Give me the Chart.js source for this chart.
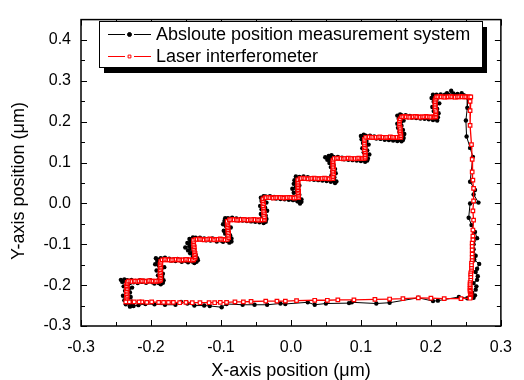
<!DOCTYPE html>
<html>
<head>
<meta charset="utf-8">
<script src="https://cdn.jsdelivr.net/npm/chart.js@4.4.1/dist/chart.umd.min.js"></script>
<style>
  html, body { margin: 0; padding: 0; background: #fff; }
  #wrap { width: 524px; height: 380px; }
</style>
</head>
<body>
<div id="wrap"><canvas id="myChart"></canvas></div>
<script>
const seriesNames = ['Absloute position measurement system', 'Laser interferometer']
const xTicks = [-0.3, -0.2, -0.1, 0.0, 0.1, 0.2, 0.3]
const yTicks = [-0.3, -0.2, -0.1, 0.0, 0.1, 0.2, 0.3, 0.4]
const xMinorTicks = [-0.25, -0.15, -0.05, 0.05, 0.15, 0.25]
const yMinorTicks = [-0.25, -0.15, -0.05, 0.05, 0.15, 0.25, 0.35]

// laser interferometer (x, y) in um: staircase up, right side down, bottom back
const laserPath = [
  [-0.234,-0.241],[-0.235,-0.237],[-0.234,-0.233],[-0.235,-0.229],[-0.234,-0.225],[-0.235,-0.221],[-0.234,-0.217],[-0.235,-0.213],[-0.234,-0.209],[-0.234,-0.205],[-0.235,-0.201],[-0.234,-0.197],[-0.234,-0.193],
  [-0.232,-0.190],[-0.229,-0.190],[-0.227,-0.191],[-0.224,-0.190],[-0.222,-0.190],[-0.219,-0.191],[-0.217,-0.190],[-0.214,-0.189],[-0.212,-0.190],[-0.209,-0.190],[-0.207,-0.191],[-0.204,-0.190],[-0.202,-0.189],[-0.199,-0.190],[-0.197,-0.190],[-0.194,-0.191],[-0.192,-0.190],[-0.189,-0.190],[-0.187,-0.189],
  [-0.186,-0.186],[-0.186,-0.182],[-0.187,-0.178],[-0.186,-0.174],[-0.187,-0.170],[-0.186,-0.166],[-0.187,-0.162],[-0.186,-0.158],[-0.186,-0.154],[-0.187,-0.150],[-0.186,-0.146],[-0.186,-0.142],
  [-0.184,-0.138],[-0.181,-0.138],[-0.179,-0.137],[-0.176,-0.138],[-0.174,-0.138],[-0.171,-0.139],[-0.169,-0.138],[-0.166,-0.138],[-0.164,-0.137],[-0.161,-0.138],[-0.159,-0.138],[-0.156,-0.139],[-0.154,-0.138],[-0.151,-0.138],[-0.149,-0.137],[-0.146,-0.138],[-0.144,-0.138],[-0.141,-0.139],[-0.139,-0.138],
  [-0.137,-0.134],[-0.137,-0.130],[-0.138,-0.126],[-0.137,-0.122],[-0.138,-0.118],[-0.138,-0.114],[-0.139,-0.110],[-0.138,-0.106],[-0.139,-0.102],[-0.139,-0.098],[-0.139,-0.094],[-0.139,-0.090],
  [-0.136,-0.088],[-0.134,-0.088],[-0.131,-0.087],[-0.129,-0.088],[-0.126,-0.088],[-0.124,-0.089],[-0.121,-0.088],[-0.119,-0.088],[-0.116,-0.087],[-0.114,-0.088],[-0.111,-0.088],[-0.109,-0.089],[-0.106,-0.088],[-0.104,-0.088],[-0.101,-0.087],[-0.099,-0.088],[-0.096,-0.088],[-0.094,-0.089],[-0.091,-0.088],
  [-0.089,-0.084],[-0.089,-0.080],[-0.090,-0.076],[-0.089,-0.072],[-0.090,-0.068],[-0.090,-0.064],[-0.090,-0.060],[-0.091,-0.056],[-0.090,-0.052],[-0.091,-0.048],[-0.091,-0.044],
  [-0.088,-0.040],[-0.086,-0.040],[-0.083,-0.039],[-0.081,-0.040],[-0.078,-0.040],[-0.076,-0.041],[-0.073,-0.040],[-0.071,-0.040],[-0.068,-0.039],[-0.066,-0.040],[-0.063,-0.040],[-0.061,-0.041],[-0.058,-0.040],[-0.056,-0.040],[-0.053,-0.039],[-0.051,-0.040],[-0.048,-0.040],[-0.046,-0.041],[-0.043,-0.040],[-0.041,-0.040],[-0.038,-0.040],
  [-0.038,-0.036],[-0.038,-0.032],[-0.039,-0.027],[-0.038,-0.023],[-0.039,-0.019],[-0.039,-0.014],[-0.039,-0.010],[-0.040,-0.006],[-0.039,-0.001],[-0.040,0.003],[-0.040,0.007],[-0.040,0.011],
  [-0.037,0.014],[-0.035,0.014],[-0.032,0.015],[-0.030,0.014],[-0.027,0.014],[-0.025,0.013],[-0.022,0.014],[-0.020,0.014],[-0.017,0.015],[-0.015,0.014],[-0.012,0.014],[-0.010,0.013],[-0.007,0.014],[-0.005,0.014],[-0.002,0.015],[0.000,0.014],[0.003,0.014],[0.005,0.013],[0.008,0.014],[0.011,0.014],
  [0.011,0.018],[0.011,0.022],[0.010,0.026],[0.011,0.030],[0.010,0.034],[0.010,0.038],[0.010,0.042],[0.010,0.046],[0.010,0.050],[0.010,0.054],[0.010,0.058],
  [0.013,0.061],[0.015,0.061],[0.018,0.062],[0.020,0.061],[0.023,0.061],[0.025,0.060],[0.028,0.061],[0.030,0.061],[0.033,0.062],[0.035,0.061],[0.038,0.061],[0.040,0.060],[0.043,0.061],[0.045,0.061],[0.048,0.062],[0.050,0.061],[0.053,0.061],[0.055,0.060],[0.058,0.061],[0.060,0.061],
  [0.060,0.065],[0.060,0.069],[0.061,0.073],[0.060,0.077],[0.060,0.081],[0.061,0.085],[0.060,0.089],[0.060,0.094],[0.060,0.098],[0.060,0.102],[0.060,0.106],
  [0.062,0.110],[0.065,0.110],[0.067,0.111],[0.070,0.110],[0.072,0.110],[0.075,0.109],[0.077,0.110],[0.080,0.110],[0.082,0.111],[0.085,0.110],[0.087,0.110],[0.090,0.109],[0.092,0.110],[0.095,0.110],[0.097,0.111],[0.100,0.110],[0.102,0.110],[0.104,0.110],[0.106,0.111],
  [0.106,0.115],[0.106,0.119],[0.106,0.123],[0.106,0.127],[0.105,0.131],[0.106,0.136],[0.105,0.140],[0.105,0.144],[0.105,0.148],[0.105,0.153],[0.105,0.157],
  [0.107,0.162],[0.110,0.162],[0.112,0.163],[0.115,0.162],[0.117,0.162],[0.120,0.161],[0.122,0.162],[0.125,0.162],[0.127,0.163],[0.130,0.162],[0.132,0.162],[0.135,0.161],[0.137,0.162],[0.140,0.162],[0.142,0.163],[0.145,0.162],[0.147,0.162],[0.150,0.161],[0.152,0.162],[0.155,0.162],[0.157,0.162],
  [0.157,0.166],[0.157,0.170],[0.156,0.174],[0.156,0.178],[0.156,0.182],[0.156,0.186],[0.155,0.191],[0.155,0.195],[0.155,0.199],[0.155,0.203],[0.156,0.207],
  [0.158,0.212],[0.160,0.212],[0.163,0.213],[0.165,0.212],[0.168,0.212],[0.170,0.211],[0.173,0.212],[0.175,0.212],[0.178,0.213],[0.180,0.212],[0.183,0.212],[0.185,0.211],[0.188,0.212],[0.190,0.212],[0.193,0.213],[0.195,0.212],[0.198,0.212],[0.200,0.211],[0.203,0.212],[0.205,0.212],[0.207,0.212],
  [0.207,0.216],[0.207,0.220],[0.207,0.224],[0.207,0.228],[0.206,0.233],[0.206,0.237],[0.206,0.241],[0.206,0.245],[0.206,0.249],[0.206,0.253],[0.207,0.257],
  [0.208,0.261],[0.210,0.261],[0.213,0.262],[0.215,0.261],[0.218,0.261],[0.220,0.260],[0.223,0.261],[0.225,0.261],[0.228,0.262],[0.230,0.261],[0.233,0.261],[0.235,0.260],[0.238,0.261],[0.240,0.261],[0.243,0.262],[0.245,0.261],[0.248,0.261],[0.250,0.261],[0.253,0.261],[0.255,0.261],[0.257,0.261],
  [0.256,0.250],[0.256,0.227],[0.256,0.191],[0.258,0.144],[0.259,0.108],[0.259,0.077],[0.260,0.057],[0.261,0.037],[0.261,0.006],[0.260,-0.018],[0.261,-0.041],[0.260,-0.065],
  [0.260,-0.080],[0.260,-0.089],[0.259,-0.097],[0.259,-0.105],[0.259,-0.114],[0.259,-0.124],[0.259,-0.132],[0.259,-0.140],[0.258,-0.146],[0.258,-0.152],[0.258,-0.159],[0.258,-0.165],
  [0.257,-0.170],[0.257,-0.175],[0.257,-0.181],[0.257,-0.188],[0.256,-0.194],[0.256,-0.199],[0.256,-0.204],[0.256,-0.208],[0.256,-0.212],[0.256,-0.215],[0.257,-0.219],[0.257,-0.222],
  [0.257,-0.225],[0.257,-0.228],[0.256,-0.230],[0.256,-0.232],
  [0.243,-0.233],[0.219,-0.233],[0.200,-0.232],[0.182,-0.231],[0.160,-0.233],[0.141,-0.234],[0.120,-0.235],[0.090,-0.236],[0.067,-0.236],
  [0.052,-0.237],[0.034,-0.237],[0.008,-0.238],[-0.008,-0.239],[-0.020,-0.239],[-0.036,-0.239],[-0.057,-0.240],[-0.068,-0.241],[-0.080,-0.241],
  [-0.092,-0.242],[-0.101,-0.242],[-0.109,-0.243],[-0.117,-0.243],[-0.130,-0.243],[-0.141,-0.243],[-0.150,-0.242],[-0.159,-0.243],[-0.168,-0.242],
  [-0.175,-0.242],[-0.182,-0.242],[-0.189,-0.242],[-0.199,-0.241],[-0.206,-0.242],[-0.213,-0.241],[-0.217,-0.241],[-0.224,-0.241],[-0.231,-0.241],[-0.236,-0.241]
]

// absolute position measurement system (x, y) in um, same route, noisier
const apmsPath = [
  [-0.230,-0.252],[-0.226,-0.249],[-0.236,-0.247],[-0.231,-0.244],[-0.228,-0.240],[-0.238,-0.237],[-0.233,-0.233],[-0.229,-0.229],[-0.240,-0.226],[-0.235,-0.222],[-0.230,-0.218],[-0.237,-0.214],[-0.232,-0.210],[-0.227,-0.206],[-0.239,-0.203],[-0.233,-0.199],[-0.230,-0.195],[-0.241,-0.192],[-0.236,-0.189],[-0.243,-0.187],
  [-0.238,-0.186],[-0.234,-0.188],[-0.231,-0.192],[-0.228,-0.187],[-0.225,-0.193],[-0.222,-0.190],[-0.219,-0.195],[-0.216,-0.188],[-0.213,-0.192],[-0.210,-0.189],[-0.207,-0.194],[-0.204,-0.191],[-0.201,-0.188],[-0.198,-0.193],[-0.195,-0.196],[-0.192,-0.190],[-0.189,-0.195],[-0.186,-0.198],[-0.183,-0.194],
  [-0.182,-0.188],[-0.188,-0.184],[-0.184,-0.180],[-0.190,-0.176],[-0.183,-0.172],[-0.187,-0.168],[-0.192,-0.164],[-0.185,-0.160],[-0.181,-0.156],[-0.189,-0.152],[-0.194,-0.149],[-0.186,-0.145],[-0.191,-0.141],[-0.187,-0.137],[-0.193,-0.134],
  [-0.186,-0.134],[-0.183,-0.136],[-0.180,-0.133],[-0.177,-0.138],[-0.174,-0.135],[-0.171,-0.140],[-0.168,-0.137],[-0.165,-0.141],[-0.162,-0.136],[-0.159,-0.139],[-0.156,-0.143],[-0.153,-0.138],[-0.150,-0.141],[-0.147,-0.144],[-0.144,-0.139],[-0.141,-0.142],[-0.138,-0.146],[-0.135,-0.143],[-0.133,-0.139],
  [-0.134,-0.134],[-0.140,-0.130],[-0.136,-0.126],[-0.144,-0.122],[-0.139,-0.118],[-0.147,-0.115],[-0.142,-0.111],[-0.151,-0.108],[-0.145,-0.104],[-0.139,-0.100],[-0.148,-0.097],[-0.143,-0.093],[-0.137,-0.090],[-0.145,-0.087],[-0.140,-0.083],
  [-0.136,-0.084],[-0.133,-0.087],[-0.130,-0.084],[-0.127,-0.089],[-0.124,-0.086],[-0.121,-0.090],[-0.118,-0.087],[-0.115,-0.091],[-0.112,-0.086],[-0.109,-0.089],[-0.106,-0.093],[-0.103,-0.088],[-0.100,-0.091],[-0.097,-0.094],[-0.094,-0.089],[-0.091,-0.092],[-0.088,-0.096],[-0.085,-0.093],
  [-0.085,-0.086],[-0.091,-0.082],[-0.087,-0.078],[-0.094,-0.074],[-0.089,-0.070],[-0.096,-0.067],[-0.091,-0.063],[-0.086,-0.059],[-0.093,-0.055],[-0.097,-0.051],[-0.090,-0.047],[-0.095,-0.043],[-0.089,-0.040],[-0.094,-0.036],
  [-0.090,-0.036],[-0.087,-0.038],[-0.084,-0.035],[-0.081,-0.040],[-0.078,-0.037],[-0.075,-0.041],[-0.072,-0.038],[-0.069,-0.042],[-0.066,-0.039],[-0.063,-0.043],[-0.060,-0.040],[-0.057,-0.044],[-0.054,-0.041],[-0.051,-0.045],[-0.048,-0.042],[-0.045,-0.046],[-0.042,-0.043],[-0.039,-0.048],[-0.036,-0.045],
  [-0.035,-0.038],[-0.041,-0.034],[-0.036,-0.030],[-0.043,-0.026],[-0.038,-0.022],[-0.034,-0.018],[-0.042,-0.014],[-0.037,-0.010],[-0.044,-0.006],[-0.039,-0.002],[-0.035,0.002],[-0.042,0.006],[-0.038,0.010],[-0.043,0.014],[-0.039,0.018],
  [-0.036,0.017],[-0.033,0.014],[-0.030,0.018],[-0.027,0.013],[-0.024,0.016],[-0.021,0.012],[-0.018,0.015],[-0.015,0.011],[-0.012,0.014],[-0.009,0.010],[-0.006,0.013],[-0.003,0.009],[0.000,0.012],[0.003,0.008],[0.006,0.011],[0.009,0.006],[0.012,0.009],[0.015,0.004],
  [0.013,0.000],[0.010,0.005],[0.015,0.010],[0.008,0.016],[0.012,0.021],[0.004,0.026],[0.009,0.031],[0.002,0.036],[0.007,0.040],[0.012,0.044],[0.004,0.048],[0.009,0.053],[0.005,0.057],[0.011,0.061],[0.007,0.066],
  [0.012,0.065],[0.015,0.062],[0.018,0.066],[0.021,0.061],[0.024,0.064],[0.027,0.059],[0.030,0.062],[0.033,0.058],[0.036,0.061],[0.039,0.057],[0.042,0.060],[0.045,0.056],[0.048,0.059],[0.051,0.055],[0.054,0.058],[0.057,0.053],[0.060,0.056],[0.063,0.050],[0.065,0.054],
  [0.062,0.064],[0.058,0.069],[0.064,0.074],[0.059,0.079],[0.063,0.084],[0.057,0.089],[0.061,0.094],[0.055,0.099],[0.059,0.103],[0.052,0.107],[0.056,0.110],[0.049,0.113],[0.054,0.116],[0.058,0.118],
  [0.061,0.114],[0.064,0.111],[0.067,0.114],[0.070,0.109],[0.073,0.112],[0.076,0.108],[0.079,0.111],[0.082,0.107],[0.085,0.110],[0.088,0.106],[0.091,0.109],[0.094,0.105],[0.097,0.108],[0.100,0.104],[0.103,0.107],[0.106,0.102],[0.109,0.105],
  [0.110,0.110],[0.106,0.115],[0.112,0.120],[0.104,0.125],[0.109,0.130],[0.102,0.135],[0.107,0.140],[0.111,0.144],[0.103,0.148],[0.108,0.153],[0.101,0.157],[0.106,0.161],[0.100,0.165],[0.104,0.168],
  [0.107,0.166],[0.110,0.163],[0.113,0.166],[0.116,0.161],[0.119,0.164],[0.122,0.159],[0.125,0.162],[0.128,0.158],[0.131,0.161],[0.134,0.156],[0.137,0.159],[0.140,0.155],[0.143,0.158],[0.146,0.154],[0.149,0.157],[0.152,0.153],[0.155,0.156],[0.158,0.152],[0.160,0.155],
  [0.161,0.160],[0.157,0.165],[0.162,0.170],[0.155,0.175],[0.160,0.180],[0.153,0.185],[0.158,0.190],[0.152,0.195],[0.157,0.199],[0.161,0.203],[0.154,0.207],[0.158,0.211],[0.152,0.215],[0.156,0.218],
  [0.158,0.216],[0.161,0.213],[0.164,0.216],[0.167,0.211],[0.170,0.214],[0.173,0.210],[0.176,0.213],[0.179,0.209],[0.182,0.212],[0.185,0.208],[0.188,0.211],[0.191,0.207],[0.194,0.210],[0.197,0.206],[0.200,0.209],[0.203,0.204],[0.206,0.207],[0.209,0.203],
  [0.210,0.211],[0.206,0.216],[0.211,0.221],[0.204,0.226],[0.209,0.231],[0.202,0.236],[0.207,0.241],[0.212,0.245],[0.204,0.249],[0.208,0.254],[0.201,0.258],[0.206,0.262],[0.203,0.266],
  [0.208,0.266],[0.211,0.263],[0.214,0.267],[0.217,0.262],[0.220,0.266],[0.223,0.270],[0.226,0.265],[0.229,0.276],[0.232,0.269],[0.235,0.265],[0.238,0.268],[0.241,0.263],[0.244,0.270],[0.247,0.265],[0.250,0.262],[0.253,0.259],
  [0.252,0.234],[0.250,0.203],[0.251,0.164],[0.256,0.136],[0.260,0.114],[0.256,0.053],[0.263,0.033],[0.261,0.022],[0.268,0.002],[0.256,0.000],[0.254,-0.035],[0.258,-0.053],[0.263,-0.070],
  [0.266,-0.085],[0.261,-0.100],[0.261,-0.112],[0.264,-0.128],[0.262,-0.138],[0.269,-0.148],[0.266,-0.160],[0.264,-0.168],[0.267,-0.178],[0.266,-0.187],[0.261,-0.195],[0.265,-0.203],
  [0.264,-0.211],[0.259,-0.219],[0.263,-0.225],[0.261,-0.231],
  [0.252,-0.232],[0.240,-0.229],[0.210,-0.238],[0.203,-0.239],[0.182,-0.231],[0.141,-0.243],[0.122,-0.245],[0.087,-0.242],[0.083,-0.244],
  [0.050,-0.245],[0.034,-0.248],[0.024,-0.242],[-0.008,-0.246],[-0.015,-0.245],[-0.034,-0.248],[-0.052,-0.248],[-0.069,-0.248],[-0.092,-0.246],
  [-0.099,-0.254],[-0.116,-0.251],[-0.124,-0.250],[-0.138,-0.250],[-0.148,-0.245],[-0.157,-0.241],[-0.165,-0.248],[-0.180,-0.248],[-0.195,-0.247],
  [-0.208,-0.246],[-0.218,-0.249],[-0.225,-0.251],[-0.230,-0.252]
]

const FONT = "Arial, 'Liberation Sans', sans-serif"

// inward ticks on all four sides, frame and axis titles
const frame = {
  id: 'frame',
  afterDatasetsDraw(chart) {
    const { ctx, chartArea: a, scales: { x, y } } = chart
    ctx.save()
    ctx.strokeStyle = '#000'
    ctx.lineWidth = 1
    ctx.beginPath()
    const xs = xTicks.map(v => [v, 6]).concat(xMinorTicks.map(v => [v, 4]))
    xs.forEach(([v, len]) => {
      const px = Math.round(x.getPixelForValue(v)) + 0.5
      ctx.moveTo(px, a.bottom); ctx.lineTo(px, a.bottom - len)
      ctx.moveTo(px, a.top); ctx.lineTo(px, a.top + len)
    })
    const ys = yTicks.map(v => [v, 6]).concat(yMinorTicks.map(v => [v, 4]))
    ys.forEach(([v, len]) => {
      const py = Math.round(y.getPixelForValue(v)) + 0.5
      ctx.moveTo(a.left, py); ctx.lineTo(a.left + len, py)
      ctx.moveTo(a.right, py); ctx.lineTo(a.right - len, py)
    })
    ctx.stroke()
    ctx.lineWidth = 1.5
    ctx.strokeRect(a.left, a.top, a.right - a.left, a.bottom - a.top)

    ctx.fillStyle = '#000'
    ctx.font = '18px ' + FONT
    ctx.textAlign = 'center'
    ctx.textBaseline = 'alphabetic'
    ctx.fillText('X-axis position (\u03bcm)', (a.left + a.right) / 2, 376)
    ctx.translate(24, 181)
    ctx.rotate(-Math.PI / 2)
    ctx.fillText('Y-axis position (\u03bcm)', 0, 0)
    ctx.restore()
  }
}

// boxed legend with a drop shadow
const boxLegend = {
  id: 'boxLegend',
  afterDraw(chart) {
    const { ctx } = chart
    const ds = chart.data.datasets
    const bx = 99, by = 21, bw = 383, bh = 46
    ctx.save()
    ctx.fillStyle = '#000'
    ctx.fillRect(bx + 5, by + 6, bw, bh)
    ctx.fillStyle = '#fff'
    ctx.fillRect(bx, by, bw, bh)
    ctx.strokeStyle = '#000'
    ctx.lineWidth = 1
    ctx.strokeRect(bx + 0.5, by + 0.5, bw, bh)
    const rows = [[ds[1], 34], [ds[0], 56]]
    ctx.font = '18px ' + FONT
    ctx.textBaseline = 'middle'
    rows.forEach(([d, ry]) => {
      ctx.strokeStyle = d.borderColor
      ctx.lineWidth = 1
      ctx.beginPath()
      ctx.moveTo(108, ry + 0.5); ctx.lineTo(125, ry + 0.5)
      ctx.moveTo(134, ry + 0.5); ctx.lineTo(151, ry + 0.5)
      ctx.stroke()
      ctx.fillStyle = d.pointBackgroundColor
      ctx.strokeStyle = d.pointBorderColor
      ctx.lineWidth = 1
      Chart.helpers.drawPoint(ctx, {
        pointStyle: d.pointStyle, radius: 2, borderWidth: 1
      }, 129.5, ry + 0.5)
      ctx.fillStyle = '#000'
      ctx.fillText(d.label, 156, ry + 1)
    })
    ctx.restore()
  }
}

const ctx = document.querySelector('#myChart')

new Chart(ctx, {
  type: 'scatter',
  data: {
    datasets: [{
      label: seriesNames[1],
      data: laserPath.map(p => ({ x: p[0], y: p[1] })),
      showLine: true,
      borderColor: '#ff0000',
      borderWidth: 1.3,
      pointStyle: 'rect',
      pointRadius: 2.5,
      pointBorderWidth: 1.2,
      pointBorderColor: '#ff0000',
      pointBackgroundColor: '#ffffff',
      order: 0
    }, {
      label: seriesNames[0],
      data: apmsPath.map(p => ({ x: p[0], y: p[1] })),
      showLine: true,
      borderColor: '#000000',
      borderWidth: 1,
      pointStyle: 'circle',
      pointRadius: 2.2,
      pointBorderWidth: 0,
      pointBorderColor: '#000000',
      pointBackgroundColor: '#000000',
      order: 1
    }]
  },
  options: {
    responsive: true,
    maintainAspectRatio: false,
    devicePixelRatio: 1,
    animation: false,
    layout: { padding: { top: 9, right: 13, left: 0, bottom: 0 } },
    plugins: { legend: { display: false }, tooltip: { enabled: false } },
    scales: {
      x: {
        type: 'linear',
        min: -0.3,
        max: 0.3,
        afterBuildTicks: s => { s.ticks = xTicks.map(v => ({ value: v })) },
        afterFit: s => { s.height = 54 },
        grid: { display: false, drawTicks: false },
        border: { display: false },
        ticks: {
          color: '#000',
          font: { family: FONT, size: 16 },
          padding: 12,
          maxRotation: 0,
          autoSkip: false,
          callback: v => v.toFixed(1)
        }
      },
      y: {
        type: 'linear',
        min: -0.3,
        max: 0.45,
        afterBuildTicks: s => { s.ticks = yTicks.map(v => ({ value: v })) },
        afterFit: s => { s.width = 81 },
        grid: { display: false, drawTicks: false },
        border: { display: false },
        ticks: {
          color: '#000',
          font: { family: FONT, size: 16 },
          padding: 10,
          autoSkip: false,
          callback: v => v.toFixed(1)
        }
      }
    }
  },
  plugins: [frame, boxLegend]
})
</script>
</body>
</html>
